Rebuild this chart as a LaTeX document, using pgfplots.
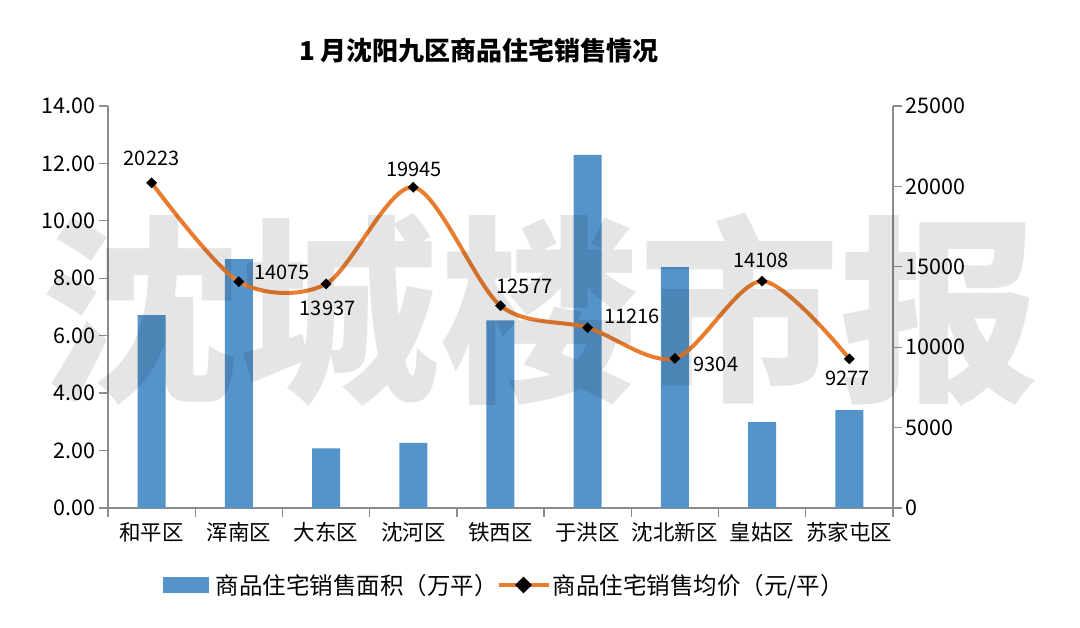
\documentclass[border=0pt]{standalone}
\usepackage{pgfplots}
\usepackage{pgfplotstable}
\pgfplotsset{compat=1.18}
\usepackage{fontspec}
\setmainfont{Noto Sans CJK SC}
\definecolor{barblue}{HTML}{5593CB}
\definecolor{lineorange}{HTML}{E87D2F}
\definecolor{axgray}{HTML}{8C8C8C}

\pgfplotstableread{
x a
0 6.72
1 8.67
2 2.08
3 2.27
4 6.53
5 12.30
6 8.39
7 2.99
8 3.41
}\areatable

\pgfplotstableread{
x y dx dy
0 20223 0 24
1 14075 43 9
2 13937 1.5 -24
3 19945 1 18
4 12577 24 19
5 11216 44.5 11
6 9304 41 -6
7 14108 -1 21
8 9277 -2 -20
}\pricetable

\begin{document}
\begin{tikzpicture}[x=1pt,y=1pt]
\path[use as bounding box] (0,0) rectangle (1080,628);
\fill[white] (0,0) rectangle (1080,628);

\node[font=\fontsize{26}{30}\selectfont\bfseries, text=black] at (479,578) {1 月沈阳九区商品住宅销售情况};

\begin{axis}[
  at={(108pt,120pt)}, anchor=south west,
  scale only axis, width=785pt, height=402pt,
  xmin=-0.5, xmax=8.5, ymin=0, ymax=14,
  axis x line*=bottom, axis y line*=left,
  axis line style={draw=axgray, line width=1.3pt},
  xtick={0,...,8},
  xticklabels={和平区,浑南区,大东区,沈河区,铁西区,于洪区,沈北新区,皇姑区,苏家屯区},
  minor xtick={-0.5,0.5,...,8.5},
  major x tick style={draw=none},
  minor x tick style={draw=axgray, line width=1.3pt},
  ytick={0,2,...,14},
  y tick style={draw=axgray, line width=1.3pt},
  tick align=outside,
  major tick length=9pt, minor tick length=9pt,
  /pgf/number format/assume math mode=true,
  yticklabel style={/pgf/number format/.cd, fixed, fixed zerofill, precision=2},
  ticklabel style={font=\fontsize{21.5}{24}\selectfont, text=black},
  xticklabel style={font=\fontsize{21.5}{24}\selectfont, yshift=-2pt},
  clip=false,
]
\addplot[ybar, bar width=28pt, fill=barblue, draw=none] table[x=x,y=a] {\areatable};
\end{axis}

\begin{axis}[
  at={(108pt,120pt)}, anchor=south west,
  scale only axis, width=785pt, height=402pt,
  xmin=-0.5, xmax=8.5, ymin=0, ymax=25000,
  axis x line=none, axis y line*=right,
  axis line style={draw=axgray, line width=1.3pt},
  ytick={0,5000,...,25000},
  y tick style={draw=axgray, line width=1.3pt},
  tick align=outside,
  major tick length=9pt,
  scaled y ticks=false,
  /pgf/number format/assume math mode=true,
  /pgf/number format/1000 sep={},
  ticklabel style={font=\fontsize{21.5}{24}\selectfont, text=black},
  clip=false,
  legend style={at={(0.505,-0.1915)}, anchor=center, draw=none, fill=none,
    legend columns=2, font=\fontsize{23.5}{26}\selectfont,
    /tikz/every even column/.append style={column sep=-3pt}},
]
\addlegendimage{legend image code/.code={\fill[barblue] (0pt,-7.5pt) rectangle (45pt,7.5pt); \path (50pt,0pt);}}
\addlegendentry{商品住宅销售面积（万平）}
\addplot[lineorange, line width=4pt, smooth,
  mark=square*, mark size=3.6pt,
  mark options={fill=black, draw=black, line width=0.4pt, rotate=45, solid},
  nodes near coords,
  visualization depends on={\thisrow{dx}\as\ldx},
  visualization depends on={\thisrow{dy}\as\ldy},
  every node near coord/.append style={anchor=center, inner sep=0pt,
    xshift=\ldx pt, yshift=\ldy pt, font=\fontsize{20}{24}\selectfont, text=black},
  legend image code/.code={\draw[lineorange, line width=4pt] (0pt,0pt) -- (50pt,0pt);
    \fill[black] (25pt,5.5pt) -- (30.5pt,0pt) -- (25pt,-5.5pt) -- (19.5pt,0pt) -- cycle;},
] table[x=x,y=y] {\pricetable};
\addlegendentry{商品住宅销售均价（元/平）}
\end{axis}

\node[text=black, opacity=0.1, font=\fontsize{200}{200}\selectfont\bfseries] at (540,318) {沈城楼市报};
\end{tikzpicture}
\end{document}
